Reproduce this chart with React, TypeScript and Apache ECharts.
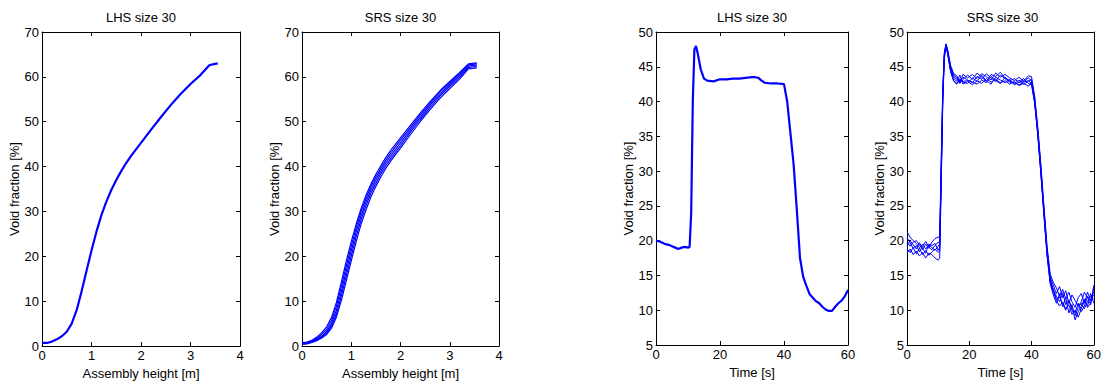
import React, { useEffect, useRef } from "react";
import * as echarts from "echarts";

// ---------- Data ----------
const panelTitles = ["LHS size 30", "SRS size 30", "LHS size 30", "SRS size 30"];
const heightTicks = [0, 1, 2, 3, 4];
const voidTicksA = [0, 10, 20, 30, 40, 50, 60, 70];
const timeTicks = [0, 20, 40, 60];
const voidTicksB = [5, 10, 15, 20, 25, 30, 35, 40, 45, 50];

// Assembly height grid [m]
const heightX = [0, 0.1, 0.2, 0.3, 0.4, 0.5, 0.6, 0.7, 0.8, 0.9, 1.0, 1.1, 1.2, 1.3, 1.4, 1.5, 1.6, 1.7, 1.8, 2.0, 2.2, 2.4, 2.6, 2.8, 3.0, 3.2, 3.38, 3.45, 3.55];

const lhsHeight = [0.7, 0.7, 1.0, 1.5, 2.2, 3.2, 5.0, 8.0, 12.2, 16.8, 21.3, 25.5, 29.2, 32.2, 34.8, 37.0, 39.0, 40.8, 42.4, 45.3, 48.2, 51.0, 53.7, 56.2, 58.4, 60.4, 62.6, 62.8, 63.0];

const srsHeight1 = [0.8, 0.9, 1.3, 2.0, 3.0, 4.3, 6.4, 9.8, 14.3, 19.0, 23.3, 27.2, 30.7, 33.6, 36.1, 38.3, 40.2, 42.0, 43.6, 46.4, 49.2, 51.9, 54.5, 56.9, 59.0, 61.0, 62.9, 63.0, 63.1];
const srsHeight2 = [0.7, 0.8, 1.1, 1.7, 2.6, 3.7, 5.7, 8.9, 13.3, 17.9, 22.3, 26.4, 30.0, 32.9, 35.5, 37.7, 39.6, 41.4, 43.0, 45.9, 48.7, 51.5, 54.1, 56.6, 58.7, 60.7, 62.7, 62.8, 62.9];
const srsHeight3 = [0.6, 0.7, 1.0, 1.5, 2.2, 3.2, 5.0, 8.0, 12.2, 16.8, 21.2, 25.4, 29.1, 32.1, 34.8, 37.0, 39.0, 40.8, 42.4, 45.3, 48.2, 51.0, 53.7, 56.1, 58.3, 60.3, 62.4, 62.5, 62.6];
const srsHeight4 = [0.5, 0.6, 0.9, 1.3, 2.0, 2.9, 4.5, 7.2, 11.2, 15.7, 20.1, 24.4, 28.2, 31.3, 34.1, 36.3, 38.4, 40.2, 41.8, 44.7, 47.7, 50.5, 53.2, 55.7, 57.9, 59.9, 62.1, 62.2, 62.3];
const srsHeight5 = [0.4, 0.5, 0.8, 1.2, 1.8, 2.6, 4.0, 6.5, 10.2, 14.6, 19.0, 23.3, 27.2, 30.4, 33.3, 35.6, 37.7, 39.6, 41.2, 44.1, 47.1, 50.0, 52.7, 55.2, 57.4, 59.5, 61.8, 61.9, 62.0];

// Time grid for LHS [s]
const timeLhsX = [0, 1, 2, 3, 4, 5, 6, 7, 8, 9, 10, 10.5, 11, 11.5, 12, 12.5, 13, 14, 15, 16, 18, 20, 22, 24, 26, 28, 30, 31, 32, 33, 34, 36, 38, 40, 41, 42, 43, 44, 45, 46, 47, 48, 49, 50, 51, 52, 53, 54, 55, 56, 57, 58, 59, 60];
const lhsTime = [20.0, 19.9, 19.7, 19.5, 19.4, 19.2, 19.0, 18.8, 19.0, 19.1, 19.0, 19.1, 24.0, 40.0, 47.5, 48.0, 47.0, 44.6, 43.3, 43.0, 42.9, 43.2, 43.2, 43.3, 43.3, 43.4, 43.5, 43.5, 43.4, 43.0, 42.7, 42.6, 42.6, 42.5, 40.0, 35.5, 31.0, 24.5, 17.5, 14.8, 13.5, 12.3, 11.8, 11.3, 11.0, 10.5, 10.1, 9.9, 9.9, 10.5, 11.0, 11.4, 12.0, 12.9];

// Time grid for SRS [s]
const timeSrsX = [0, 1, 2, 3, 4, 5, 6, 7, 8, 9, 10, 10.5, 11, 11.5, 12, 12.5, 13, 14, 15, 16, 17, 18, 19.5, 21, 22.5, 24, 25.5, 27, 28.5, 30, 31.5, 33, 34.5, 36, 37.5, 39, 40, 41, 42, 43, 44, 45, 46, 47, 48, 49, 50, 51, 52, 53, 54, 55, 56, 57, 58, 59, 60];

const srsTimeA = [21.3, 20.5, 20.0, 19.6, 19.0, 19.5, 18.8, 19.4, 19.0, 18.6, 19.2,
  19.5, 30.0, 41.0, 46.8, 48.2, 47.4,
  44.8, 43.6, 43.2, 42.9, 43.5,
  43.1, 42.7, 43.6, 43.2, 44.0, 43.4, 42.9, 43.8, 43.3, 42.8, 42.6, 43.1, 42.5, 42.9,
  43.2, 40.5, 36.0, 30.5, 24.5, 18.5, 14.5, 13.0, 12.0, 11.2, 12.5, 10.8, 11.5, 10.0, 9.2, 10.4, 11.0, 10.2, 11.3, 12.0, 11.6];
const srsTimeB = [18.2, 18.8, 18.0, 18.5, 17.8, 18.3, 17.5, 18.2, 18.0, 17.5, 17.2,
  17.5, 28.0, 40.0, 46.2, 47.9, 47.0,
  44.3, 43.0, 42.6, 43.3, 42.8,
  42.6, 43.4, 42.9, 43.8, 43.0, 42.5, 43.5, 43.1, 42.7, 43.2, 42.4, 42.8, 43.3, 42.6,
  42.4, 39.8, 35.2, 29.8, 23.5, 17.8, 13.8, 12.2, 11.0, 12.4, 10.5, 11.8, 9.6, 10.8, 8.6, 9.8, 10.6, 11.6, 10.4, 11.0, 13.2];
const srsTimeC = [19.8, 19.2, 19.8, 20.0, 19.4, 18.7, 19.5, 18.9, 19.8, 20.3, 20.5,
  20.6, 32.0, 42.0, 47.0, 48.3, 47.6,
  45.2, 44.0, 43.7, 42.6, 43.2,
  43.8, 43.2, 44.1, 43.5, 42.9, 43.9, 43.6, 44.2, 43.4, 43.0, 43.3, 42.7, 43.0, 43.7,
  43.6, 40.8, 36.4, 31.0, 25.0, 19.2, 15.2, 14.0, 13.2, 12.0, 13.0, 11.6, 12.6, 11.2, 10.4, 11.8, 12.4, 11.0, 12.6, 11.4, 12.2];
const srsTimeD = [18.8, 18.3, 19.0, 18.1, 18.9, 18.0, 18.6, 17.9, 18.4, 18.8, 18.3,
  18.5, 29.0, 40.5, 46.5, 48.0, 47.2,
  44.6, 43.3, 42.9, 43.8, 42.5,
  42.9, 42.4, 43.0, 42.6, 43.3, 42.8, 43.2, 42.7, 43.0, 42.5, 42.9, 42.3, 42.6, 42.2,
  42.8, 40.0, 35.6, 30.0, 24.0, 18.0, 14.0, 12.6, 11.4, 10.6, 11.2, 10.2, 10.8, 9.4, 10.0, 9.0, 10.2, 11.4, 10.6, 12.4, 11.0];
const srsTimeE = [20.4, 19.7, 18.9, 19.3, 18.4, 19.2, 19.9, 19.1, 18.7, 19.3, 19.8,
  19.6, 31.0, 41.5, 46.9, 48.1, 47.5,
  45.0, 43.8, 43.4, 42.7, 43.9,
  43.4, 43.9, 43.3, 44.0, 43.6, 43.1, 44.1, 43.5, 43.9, 43.4, 43.0, 43.5, 42.9, 43.4,
  43.0, 40.3, 35.8, 30.3, 24.3, 18.8, 14.8, 13.6, 12.4, 13.4, 11.8, 12.8, 11.0, 12.2, 11.4, 10.6, 11.2, 12.6, 11.8, 10.8, 13.6];
const srsTimeF = [19.2, 20.0, 19.4, 18.8, 19.7, 18.9, 18.2, 19.5, 19.3, 19.6, 18.6,
  19.0, 30.0, 41.0, 46.4, 47.8, 47.1,
  44.4, 42.9, 42.5, 43.1, 42.9,
  43.0, 42.8, 42.5, 43.1, 42.7, 43.6, 43.0, 42.6, 43.5, 42.9, 42.7, 42.4, 42.8, 43.0,
  42.6, 39.9, 35.4, 29.6, 23.8, 18.2, 14.3, 12.9, 11.6, 11.9, 10.9, 10.0, 11.3, 10.5, 9.6, 11.0, 9.8, 10.6, 12.0, 11.4, 12.6];

// ---------- Helpers ----------
const FONT = "'Liberation Sans', Arial, Helvetica, sans-serif";
const BLUE = "#0000ff";

function pairs(xs: number[], ys: number[]) {
  return xs.map((x, i) => [x, ys[i]]);
}

const grids = [
  { left: 42, top: 32, width: 198, height: 322 },
  { left: 302, top: 32, width: 197, height: 322 },
  { left: 656, top: 32, width: 192, height: 313 },
  { left: 907, top: 32, width: 191, height: 313 },
];

function makeX(gi: number, ticks: number[], name: string, pos: "bottom" | "top") {
  const main = pos === "bottom";
  return {
    type: "value",
    gridIndex: gi,
    position: pos,
    min: ticks[0],
    max: ticks[ticks.length - 1],
    interval: ticks[1] - ticks[0],
    name: main ? name : "",
    nameLocation: "middle",
    nameGap: 16,
    nameTextStyle: { fontSize: 13, color: "#000", fontFamily: FONT },
    axisLine: { show: true, onZero: false, lineStyle: { color: "#000", width: 1 } },
    axisTick: { show: true, inside: true, length: 4, lineStyle: { color: "#000", width: 1 } },
    axisLabel: { show: main, fontSize: 13, color: "#000", margin: 3, fontFamily: FONT, showMinLabel: true, showMaxLabel: true },
    splitLine: { show: false },
  };
}

function makeY(gi: number, ticks: number[], name: string, pos: "left" | "right") {
  const main = pos === "left";
  return {
    type: "value",
    gridIndex: gi,
    position: pos,
    min: ticks[0],
    max: ticks[ticks.length - 1],
    interval: ticks[1] - ticks[0],
    name: main ? name : "",
    nameLocation: "middle",
    nameGap: 20,
    nameTextStyle: { fontSize: 13, color: "#000", fontFamily: FONT },
    axisLine: { show: true, onZero: false, lineStyle: { color: "#000", width: 1 } },
    axisTick: { show: true, inside: true, length: 4, lineStyle: { color: "#000", width: 1 } },
    axisLabel: { show: main, fontSize: 13, color: "#000", margin: 3, fontFamily: FONT, showMinLabel: true, showMaxLabel: true },
    splitLine: { show: false },
  };
}

function line(gi: number, data: number[][], width: number) {
  return {
    type: "line",
    xAxisIndex: gi * 2,
    yAxisIndex: gi * 2,
    data,
    showSymbol: false,
    symbol: "none",
    smooth: false,
    lineStyle: { color: BLUE, width },
    itemStyle: { color: BLUE },
    silent: true,
  };
}

export default function App() {
  const ref = useRef<HTMLDivElement>(null);

  useEffect(() => {
    document.body.style.margin = "0";
    const chart = echarts.init(ref.current!, null, { renderer: "svg" });

    const xAxes: any[] = [];
    const yAxes: any[] = [];
    const xNames = ["Assembly height [m]", "Assembly height [m]", "Time [s]", "Time [s]"];
    const xTicks = [heightTicks, heightTicks, timeTicks, timeTicks];
    const yTicks = [voidTicksA, voidTicksA, voidTicksB, voidTicksB];
    for (let gi = 0; gi < 4; gi++) {
      xAxes.push(makeX(gi, xTicks[gi], xNames[gi], "bottom"));
      xAxes.push(makeX(gi, xTicks[gi], "", "top"));
      yAxes.push(makeY(gi, yTicks[gi], "Void fraction [%]", "left"));
      yAxes.push(makeY(gi, yTicks[gi], "", "right"));
    }

    const series: any[] = [
      line(0, pairs(heightX, lhsHeight), 2.2),
      ...[srsHeight1, srsHeight2, srsHeight3, srsHeight4, srsHeight5].map((s) => line(1, pairs(heightX, s), 1.2)),
      line(2, pairs(timeLhsX, lhsTime), 2.2),
      ...[srsTimeA, srsTimeB, srsTimeC, srsTimeD, srsTimeE, srsTimeF].map((s) => line(3, pairs(timeSrsX, s), 1)),
    ];

    const titles = panelTitles.map((t, i) => ({
      text: t,
      left: grids[i].left + grids[i].width / 2,
      top: 11,
      textAlign: "center",
      padding: 0,
      textStyle: { fontSize: 13, fontWeight: "normal", color: "#000", fontFamily: FONT },
    }));

    chart.setOption({
      animation: false,
      backgroundColor: "#fff",
      title: titles,
      grid: grids.map((g) => ({ ...g, containLabel: false })),
      xAxis: xAxes,
      yAxis: yAxes,
      series,
    });

    return () => chart.dispose();
  }, []);

  return <div ref={ref} style={{ width: 1104, height: 385 }} />;
}
